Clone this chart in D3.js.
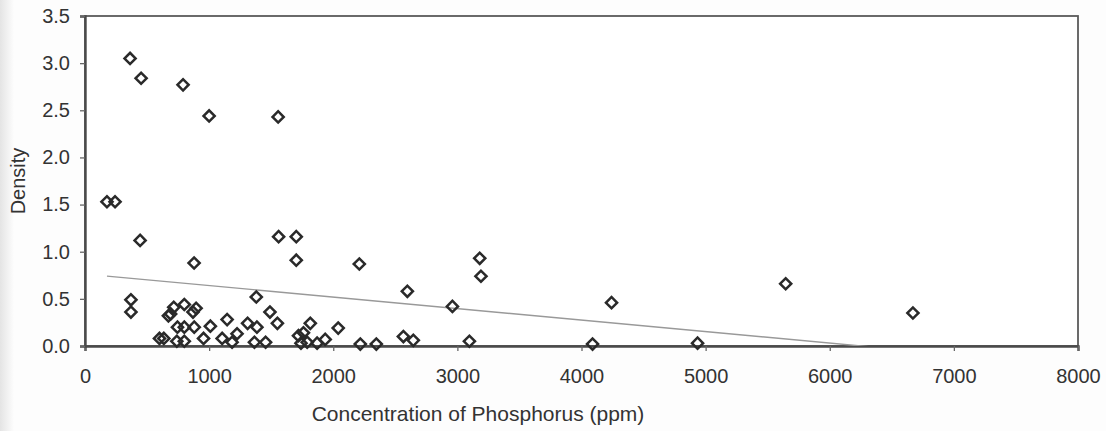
<!DOCTYPE html>
<html>
<head>
<meta charset="utf-8">
<script src="https://cdn.jsdelivr.net/npm/d3@7"></script>
<style>
  body { margin: 0; background: #fdfdfd; }
  #chart { width: 1106px; height: 431px; }
  text { font-family: "Liberation Sans", Arial, sans-serif; fill: #333; }
</style>
</head>
<body>
<div id="chart"></div>
<script>
// Values
const phosphorus = [177, 242, 363, 452, 790, 1000, 1556,
  444, 879, 370, 370,
  1560, 1702, 1702, 2210, 3180, 3190, 2597, 2960, 4242, 5645, 6670,
  4089, 4935, 3097,
  600, 635, 672, 690, 715, 740, 745, 800, 800, 800, 880, 870, 895, 955, 1010,
  1105, 1145, 1185, 1225, 1310, 1380, 1385, 1365, 1455, 1490, 1550,
  1720, 1740, 1790, 1815, 1760, 1870, 1935, 2040, 2218, 2347, 2565, 2645]
const density = [1.53, 1.53, 3.05, 2.84, 2.77, 2.44, 2.43,
  1.12, 0.88, 0.49, 0.36,
  1.16, 1.16, 0.91, 0.87, 0.93, 0.74, 0.58, 0.42, 0.46, 0.66, 0.35,
  0.02, 0.03, 0.05,
  0.08, 0.08, 0.32, 0.34, 0.41, 0.05, 0.20, 0.20, 0.05, 0.44, 0.20, 0.36, 0.40, 0.08, 0.21,
  0.08, 0.28, 0.04, 0.13, 0.24, 0.52, 0.20, 0.04, 0.04, 0.36, 0.24,
  0.11, 0.03, 0.04, 0.24, 0.14, 0.03, 0.07, 0.19, 0.02, 0.02, 0.10, 0.06]

const xTicks = [0, 1000, 2000, 3000, 4000, 5000, 6000, 7000, 8000]
const yTicks = [0, 0.5, 1.0, 1.5, 2.0, 2.5, 3.0, 3.5]

// linear trend line as drawn
const trendIntercept = 0.763
const trendSlope = -0.000122

const xTitle = "Concentration of Phosphorus (ppm)"
const yTitle = "Density"

const W = 1106, H = 431
const margin = { top: 16, right: 28, bottom: 85, left: 85 }
const width = W - margin.left - margin.right
const height = H - margin.top - margin.bottom

const svg = d3.select("#chart").append("svg")
    .attr("width", W)
    .attr("height", H)

// scan shading on the left edge
const grad = svg.append("defs").append("linearGradient").attr("id", "edge")
grad.append("stop").attr("offset", "0%").attr("stop-color", "#e4e4e4")
grad.append("stop").attr("offset", "100%").attr("stop-color", "#fdfdfd")
svg.append("rect").attr("width", 14).attr("height", H).attr("fill", "url(#edge)")

const g = svg.append("g")
    .attr("transform", "translate(" + margin.left + "," + margin.top + ")")

const x = d3.scaleLinear().domain([0, 8000]).range([0, width])
const y = d3.scaleLinear().domain([0, 3.5]).range([height, 0])

g.append("clipPath").attr("id", "plot")
  .append("rect").attr("width", width).attr("height", height)

// frame
g.append("rect")
    .attr("width", width)
    .attr("height", height)
    .attr("fill", "#fff")
    .attr("stroke", "#5a5a5a")
    .attr("stroke-width", 1.8)

const xAxis = g.append("g")
    .attr("transform", "translate(0," + height + ")")
    .call(d3.axisBottom(x).tickValues(xTicks).tickFormat(d3.format("d")).tickSize(5).tickPadding(18))
const yAxis = g.append("g")
    .call(d3.axisLeft(y).tickValues(yTicks).tickFormat(d3.format(".1f")).tickSize(5).tickPadding(10))

;[xAxis, yAxis].forEach(a => {
  a.select(".domain").attr("stroke", "#4a4a4a").attr("stroke-width", 2.4)
  a.selectAll(".tick line").attr("stroke", "#666").attr("stroke-width", 1.3)
  a.selectAll(".tick text")
    .attr("font-size", 20)
    .attr("font-family", "Liberation Sans, Arial, sans-serif")
    .attr("fill", "#333")
})

// trend line
const xs = d3.extent(phosphorus)
g.append("line")
    .attr("clip-path", "url(#plot)")
    .attr("x1", x(xs[0]))
    .attr("y1", y(trendIntercept + trendSlope * xs[0]))
    .attr("x2", x(xs[1]))
    .attr("y2", y(trendIntercept + trendSlope * xs[1]))
    .attr("stroke", "#999")
    .attr("stroke-width", 1.4)

// diamonds
const points = phosphorus.map((p, i) => ({ p: p, d: density[i] }))
const diamond = d3.symbol().type(d3.symbolSquare).size(62)
g.selectAll("path.pt")
  .data(points)
  .join("path")
    .attr("class", "pt")
    .attr("d", diamond)
    .attr("transform", d => "translate(" + x(d.p) + "," + y(d.d) + ") rotate(45)")
    .attr("fill", "none")
    .attr("stroke", "#2a2a2a")
    .attr("stroke-width", 2.5)

// axis titles
svg.append("text")
    .attr("x", 478)
    .attr("y", 421)
    .attr("text-anchor", "middle")
    .attr("font-size", 21)
    .text(xTitle)

svg.append("text")
    .attr("transform", "translate(25," + (margin.top + y(1.75)) + ") rotate(-90)")
    .attr("text-anchor", "middle")
    .attr("font-size", 20)
    .text(yTitle)
</script>
</body>
</html>
